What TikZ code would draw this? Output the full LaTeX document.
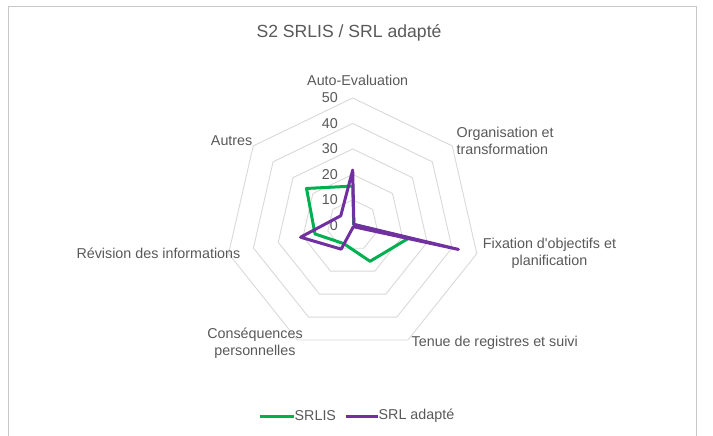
\documentclass[tikz,border=0pt]{standalone}
\usepackage{fontspec}
\setmainfont{Liberation Sans}[Ligatures=TeXOff]
\definecolor{txt}{HTML}{595959}
\definecolor{gridc}{HTML}{D9D9D9}
\definecolor{srlis}{HTML}{00B050}
\definecolor{srla}{HTML}{7030A0}
\definecolor{frame}{HTML}{C8C8C8}
\tikzset{
  grid/.style={draw=gridc, line width=0.9pt},
  lbl/.style={text=txt, font=\fontsize{14.3}{17}\selectfont, inner sep=0pt},
  num/.style={text=txt, font=\fontsize{14.3}{17}\selectfont, inner sep=0pt, anchor=east},
  series/.style={line width=3pt, line join=round, line cap=round},
}
\newcommand{\CX}{352.7}
\newcommand{\CY}{225.3}
\newcommand{\SC}{2.546}
\begin{document}
\begin{tikzpicture}[x=1pt,y=-1pt]
\useasboundingbox (0,0) rectangle (713,436);
\fill[white] (0,0) rectangle (713,436);
\draw[frame, line width=1.3pt] (8.5,450) -- (8.5,6.5) -- (696.5,6.5) -- (696.5,450);
\node[lbl, font=\fontsize{17.6}{20}\selectfont] (title) at (349,33) {S2 SRLIS / SRL adapté};
% rings
\foreach \v in {10,20,30,40,50} {
  \draw[grid] ({\CX},{\CY-\SC*\v})
    \foreach \k in {1,...,6} { -- ({\CX+\SC*\v*sin(\k*360/7)},{\CY-\SC*\v*cos(\k*360/7)}) } -- cycle;
}
% scale labels
\foreach \v in {0,10,20,30,40,50} {
  \node[num] (n\v) at (338,{\CY-\SC*\v}) {\v};
}
% data coordinates
\foreach \k/\g/\p in {0/15.4/21.7, 1/0.5/0.6, 2/22.6/42.6, 3/15.7/0.6, 4/8.0/10.4, 5/15.2/21.0, 6/23.2/6.0} {
  \coordinate (g\k) at ({\CX+\SC*\g*sin(\k*360/7)},{\CY-\SC*\g*cos(\k*360/7)});
  \coordinate (p\k) at ({\CX+\SC*\p*sin(\k*360/7)},{\CY-\SC*\p*cos(\k*360/7)});
}
\draw[series, srlis] (g0) -- (g1) -- (g2) -- (g3) -- (g4) -- (g5) -- (g6) -- cycle;
\draw[series, srla] (p0) -- (p1) -- (p2) -- (p3) -- (p4) -- (p5) -- (p6) -- cycle;
% category labels
\node[lbl] (c0) at (357.7,80.5) {Auto-Evaluation};
\node[lbl, anchor=west, align=left] (c1) at (456.5,141) {Organisation et\\transformation};
\node[lbl, align=center] (c2) at (549.5,253.5) {Fixation d'objectifs et\\planification};
\node[lbl, anchor=west] (c3) at (411.5,343) {Tenue de registres et suivi};
\node[lbl, align=center] (c4) at (255,343) {Conséquences\\personnelles};
\node[lbl, anchor=east] (c5) at (240.5,253) {Révision des informations};
\node[lbl, anchor=east] (c6) at (252.5,141) {Autres};
% legend
\coordinate (l1a) at (260,416);
\coordinate (l1b) at (294,416);
\coordinate (l2a) at (345.7,416);
\coordinate (l2b) at (378,416);
\draw[srlis, line width=3pt] (l1a) -- (l1b);
\node[lbl, anchor=west] (leg1) at (294.5,416) {SRLIS};
\draw[srla, line width=3pt] (l2a) -- (l2b);
\node[lbl, anchor=west] (leg2) at (378.5,416) {SRL adapté};
\end{tikzpicture}
\end{document}
